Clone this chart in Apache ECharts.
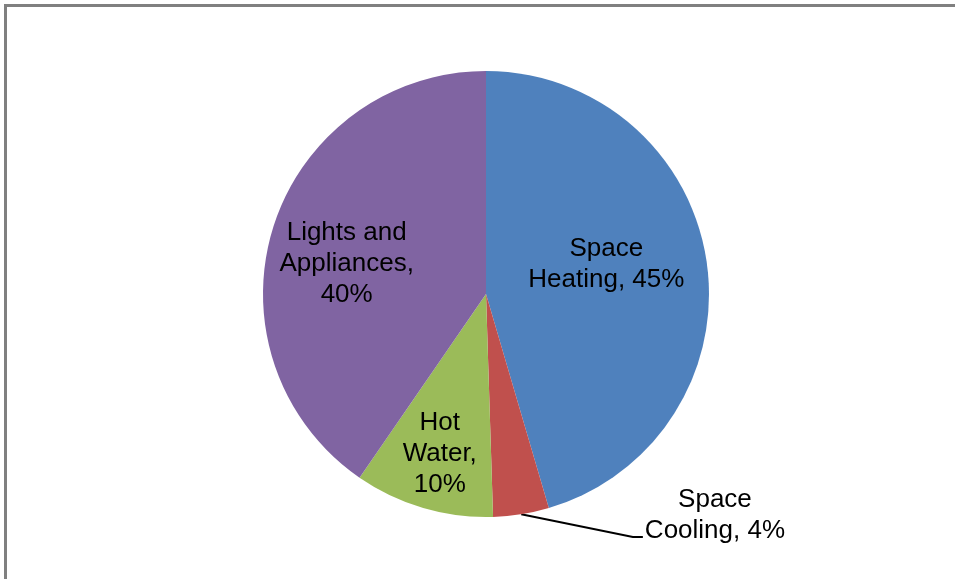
<!DOCTYPE html>
<html>
<head>
<meta charset="utf-8">
<script src="https://cdn.jsdelivr.net/npm/echarts@6/dist/echarts.min.js"></script>
<style>
  html, body { margin: 0; padding: 0; background: #fff; }
  #main { width: 955px; height: 579px; }
</style>
</head>
<body>
<div id="main"></div>
<script>
// 数据
const categories = ['Space Heating', 'Space Cooling', 'Hot Water', 'Lights and Appliances']
const values = [45, 4, 10, 40]
// 标签里的换行写法
const labelNames = ['Space\nHeating,', 'Space\nCooling,', 'Hot\nWater,\n', 'Lights and\nAppliances,\n']
const colors = ['#4F81BD', '#C0504D', '#9BBB59', '#8064A2']

// 标签偏移（样式）
const labelShift = {
  0: [7, -13],
  2: [-14, 50],
  3: [-30, 4]
}

const chart = echarts.init(document.getElementById('main'))

const option = {
  backgroundColor: '#fff',
  animation: false,
  graphic: [
    { type: 'rect', shape: { x: 4, y: 4, width: 951, height: 3 }, style: { fill: '#808080' } },
    { type: 'rect', shape: { x: 4, y: 4, width: 3, height: 575 }, style: { fill: '#808080' } }
  ],
  series: [
    {
      type: 'pie',
      center: [486, 294],
      radius: 223,
      startAngle: 90,
      clockwise: true,
      avoidLabelOverlap: false,
      itemStyle: { borderWidth: 0 },
      label: {
        position: 'inside',
        color: '#000',
        fontFamily: 'Liberation Sans, Arial, sans-serif',
        fontSize: 26,
        lineHeight: 31,
        formatter: function (p) {
          const txt = labelNames[p.dataIndex]
          const sep = txt.endsWith('\n') ? '' : ' '
          return txt + sep + p.value + '%'
        }
      },
      labelLayout: function (params) {
        const s = labelShift[params.dataIndex]
        if (s) {
          return { dx: s[0], dy: s[1] }
        }
        if (params.dataIndex === 1 && params.labelLinePoints) {
          const pts = params.labelLinePoints
          const p1 = pts[0]
          const p3 = pts[2]
          return {
            dx: 2,
            dy: -22,
            labelLinePoints: [p1, [p3[0] - 10, p3[1]], p3]
          }
        }
        return {}
      },
      data: categories.map(function (name, i) {
        const item = {
          name: name,
          value: values[i],
          itemStyle: { color: colors[i] }
        }
        if (i === 1) {
          item.label = {
            position: 'outside',
            distanceToLabelLine: 0,
            formatter: '{c|Space}\n{c|Cooling, ' + values[i] + '%}',
            rich: {
              c: {
                align: 'center',
                color: '#000',
                fontFamily: 'Liberation Sans, Arial, sans-serif',
                fontSize: 26,
                lineHeight: 31
              }
            }
          }
          item.labelLine = {
            show: true,
            length: 23,
            length2: 118,
            lineStyle: { color: '#000', width: 2 }
          }
        }
        return item
      })
    }
  ]
}

chart.setOption(option)
</script>
</body>
</html>
